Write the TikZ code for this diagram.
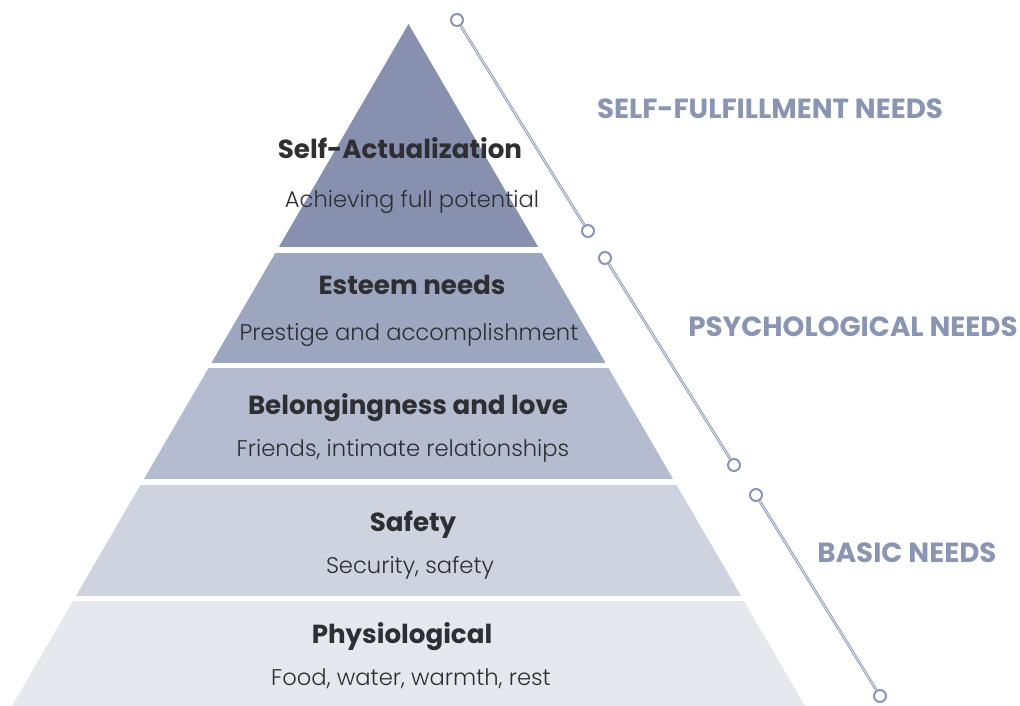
\documentclass[tikz,border=0pt]{standalone}
\usepackage{fontspec}
\setmainfont{Poppins}
\newfontfamily\lightfont{Poppins Light}
\usepackage{xcolor}
\usepackage{tikz}
\usetikzlibrary{positioning}
\usetikzlibrary{calc}
\usetikzlibrary{shapes.geometric}

\definecolor{tierA}{HTML}{8791AF}
\definecolor{tierB}{HTML}{9DA6BF}
\definecolor{tierC}{HTML}{B5BCCF}
\definecolor{tierD}{HTML}{CFD3DF}
\definecolor{tierE}{HTML}{E6E8EE}
\definecolor{needcol}{HTML}{8A94B3}
\definecolor{inkcol}{HTML}{2E2E33}

\tikzset{
  tiername/.style={font=\fontsize{19.6}{23}\selectfont\bfseries, text=inkcol, anchor=base},
  tiertext/.style={font=\fontsize{17}{20}\selectfont\lightfont, text=inkcol, anchor=base},
  needlabel/.style={font=\fontsize{20.8}{24}\selectfont\bfseries, text=needcol, anchor=base},
  knob/.style={circle, draw=needcol, fill=white, line width=1.5pt, minimum size=9pt, inner sep=0pt},
  bracket/.style={draw=needcol, line width=0.6pt, double=needcol!30, double distance=0.8pt}
}

\begin{document}
\begin{tikzpicture}[x=0.75pt,y=-0.75pt]
  \useasboundingbox (0,0) rectangle (1020,706);
  \begin{scope}
    \clip (408.5,24) -- (0.9,725) -- (816.1,725) -- cycle;
      \fill[tierA] (0,24) rectangle (1020,247);
      \fill[tierB] (0,253) rectangle (1020,363);
      \fill[tierC] (0,368) rectangle (1020,479);
      \fill[tierD] (0,485) rectangle (1020,596);
      \fill[tierE] (0,601) rectangle (1020,706);
  \end{scope}

  \node[tiername] (selfact) at (400,158) {Self-Actualization};
  \node[tiertext] (selfacttxt) at (412,207) {Achieving full potential};
  \node[tiername] (esteem) at (412,294) {Esteem needs};
  \node[tiertext] (esteemtxt) at (409,340) {Prestige and accomplishment};
  \node[tiername] (belong) at (408,414) {Belongingness and love};
  \node[tiertext] (belongtxt) at (403,456) {Friends, intimate relationships};
  \node[tiername] (safety) at (413,531) {Safety};
  \node[tiertext] (safetytxt) at (410,573) {Security, safety};
  \node[tiername] (physio) at (402,643) {Physiological};
  \node[tiertext] (physiotxt) at (411,685) {Food, water, warmth, rest};

  \node[needlabel] (selfneeds) at (770,119) {SELF-FULFILLMENT NEEDS};
  \node[needlabel] (psyneeds) at (853,336) {PSYCHOLOGICAL NEEDS};
  \node[needlabel] (basicneeds) at (907,562) {BASIC NEEDS};

  \node[knob] (selftop) at (457,20) {};
  \node[knob] (selfbot) at (588,231) {};
  \node[knob] (psytop) at (605,258) {};
  \node[knob] (psybot) at (734,465) {};
  \node[knob] (basictop) at (756,495) {};
  \node[knob] (basicbot) at (880,696) {};
  \draw[bracket] (selftop) -- (selfbot);
  \draw[bracket] (psytop) -- (psybot);
  \draw[bracket] (basictop) -- (basicbot);
\end{tikzpicture}
\end{document}
